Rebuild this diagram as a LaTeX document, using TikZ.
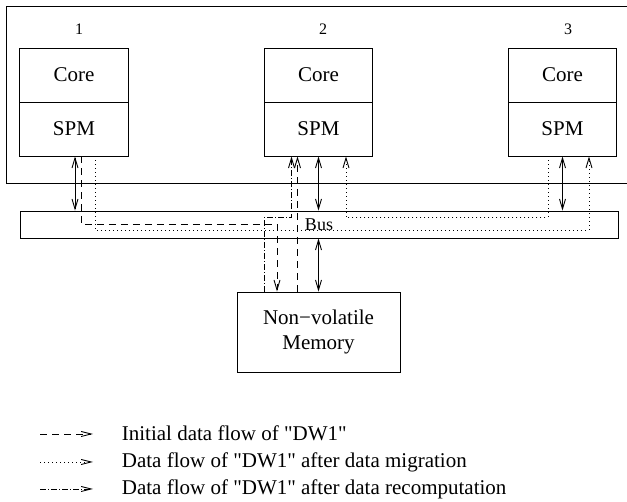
\documentclass[tikz,border=0pt]{standalone}
\usepackage{fontspec}
\setmainfont{Liberation Serif}[Ligatures=TeXOff]
\usetikzlibrary{arrows.meta,calc}
\tikzset{
  ln/.style={line width=0.9pt},
  box/.style={draw, ln, minimum width=108.5pt, minimum height=54pt, inner sep=0pt, font=\fontsize{21}{25}\selectfont},
  dsh/.style={ln, dash pattern=on 7pt off 5pt},
  dtt/.style={ln, dash pattern=on 1pt off 3pt},
  dshdot/.style={ln, dash pattern=on 6pt off 2pt on 1pt off 2pt},
  lab/.style={font=\fontsize{16}{18}\selectfont, inner sep=0pt},
  legtxt/.style={anchor=base west, inner sep=0pt, font=\fontsize{21}{25}\selectfont},
  legtip/.style={>={Straight Barb[length=10pt,width=5pt]}},
  >={Straight Barb[length=10pt,width=6pt]},
}
\begin{document}
\begin{tikzpicture}[x=1pt,y=-1pt]
\useasboundingbox (0,0) rectangle (627,502);
% outer frame (open to the right)
\draw[ln] (632,6.7) -| (6,183) -- (632,183);

% cores
\node[box] (core1) at (74,75) {Core};
\node[box] (spm1) at (74,129) {SPM};
\node[box] (core2) at (318.5,75) {Core};
\node[box] (spm2) at (318.5,129) {SPM};
\node[box] (core3) at (562.5,75) {Core};
\node[box] (spm3) at (562.5,129) {SPM};

\node[lab] (lab1) at (79,29) {1};
\node[lab] (lab2) at (323,29) {2};
\node[lab] (lab3) at (568,29) {3};

% bus
\node[draw, ln, minimum width=598pt, minimum height=27pt, inner sep=0pt,
      font=\fontsize{18}{20}\selectfont] (bus) at (319,224.5) {Bus};

% memory
\node[draw, ln, minimum width=163pt, minimum height=80pt, align=center,
      font=\fontsize{21}{25}\selectfont] (mem) at (318.5,332) {Non−volatile\\Memory};

% helper coordinates
\coordinate (lvA) at ($(bus.center)+(0,-6.8)$);
\coordinate (lvC) at ($(bus.center)+(0,5.5)$);
\coordinate (a1) at ($(spm1.south)+(1,0)$);
\coordinate (d1) at ($(spm1.south)+(7,0)$);
\coordinate (d2) at ($(mem.north)+(-41.5,0)$);
\coordinate (m1) at ($(spm1.south)+(21,0)$);
\coordinate (m2) at ($(spm3.south)+(26.5,0)$);
\coordinate (n1) at ($(spm3.south)+(-14.5,0)$);
\coordinate (n2) at ($(spm2.south)+(27.5,0)$);
\coordinate (e1) at ($(mem.north)+(-21,0)$);
\coordinate (r1) at ($(mem.north)+(-54.5,0)$);
\coordinate (r2) at ($(spm2.south)+(-27,0)$);

% solid bus connections
\draw[ln,<->] (a1) -- (a1 |- bus.north);
\draw[ln,<->] (spm2.south) -- (spm2.south |- bus.north);
\draw[ln,<->] (spm3.south) -- (spm3.south |- bus.north);
\draw[ln,<->] (bus.south -| mem.north) -- (mem.north);

% initial data flow
\draw[dsh,->] (d1) |- (d2 |- bus.center) -- (d2);
\draw[dsh,->] (e1) -- (e1 |- spm2.south);

% migration
\draw[dtt,->] (m1) |- (m2 |- lvC) -- (m2);
\draw[dtt,->] (n1) |- (n2 |- lvA) -- (n2);

% recomputation
\draw[dshdot,->] (r1) |- (r2 |- lvA) -- (r2);

% legend
\coordinate (k1a) at (40,434); \coordinate (k1b) at (93,434);
\coordinate (k2a) at (40,462); \coordinate (k2b) at (93,462);
\coordinate (k3a) at (40,489); \coordinate (k3b) at (93,489);
\draw[dsh,legtip,->] (k1a) -- (k1b);
\draw[dtt,legtip,->] (k2a) -- (k2b);
\draw[dshdot,legtip,->] (k3a) -- (k3b);
\node[legtxt] (t1) at (121.7,440.5) {Initial data flow of "DW1"};
\node[legtxt] (t2) at (121.7,468) {Data flow of "DW1" after data migration};
\node[legtxt] (t3) at (121.7,495) {Data flow of "DW1" after data recomputation};
\end{tikzpicture}
\end{document}
